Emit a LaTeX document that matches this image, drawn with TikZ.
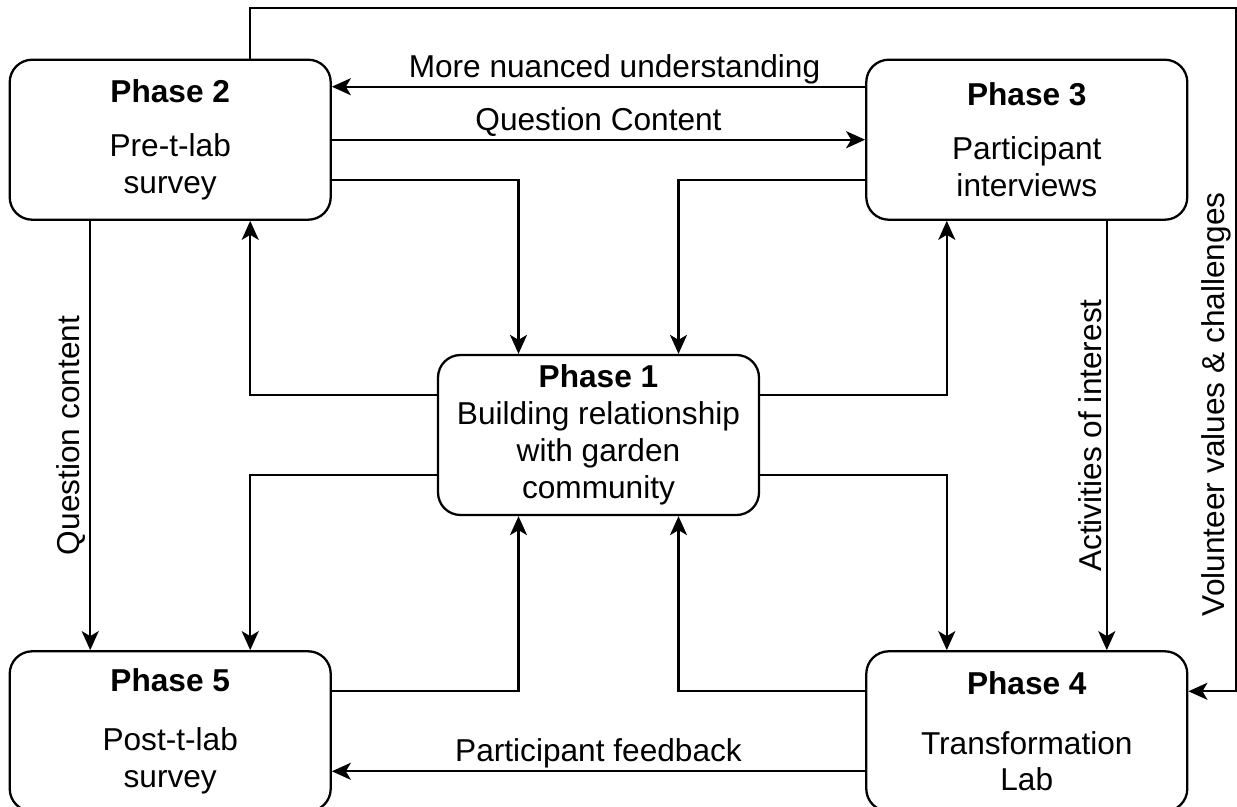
\documentclass[tikz,border=0pt]{standalone}
\usepackage{fontspec}
\setmainfont{Liberation Sans}
\usetikzlibrary{arrows.meta, positioning}

\begin{document}
\begin{tikzpicture}[
    font=\fontsize{18}{21}\selectfont,
    phase/.style={rectangle, draw, line width=1.3pt, rounded corners=0.45cm, align=center, minimum width=6.42cm, minimum height=3.2cm, inner sep=0pt},
    flow/.style={line width=1.3pt, -{Stealth[length=0.38cm, width=0.34cm, inset=0.1cm]}},
    lbl/.style={inner sep=1pt},
    vlbl/.style={inner sep=2pt, anchor=south, rotate=90}
]

\useasboundingbox (0,0) rectangle (24.74,-16.14);

\node (p1) [phase] at (11.97,-8.70) {\textbf{Phase 1}\\Building relationship\\with garden\\community};
\node (p2) [phase, above left=2.66cm and 2.1cm of p1] {\textbf{Phase 2}\\[10pt]Pre-t-lab\\survey};
\node (p3) [phase, above right=2.66cm and 2.1cm of p1] {\textbf{Phase 3}\\[10pt]Participant\\interviews};
\node (p5) [phase, below left=2.68cm and 2.1cm of p1] {\textbf{Phase 5}\\[13pt]Post-t-lab\\survey};
\node (p4) [phase, below right=2.68cm and 2.1cm of p1] {\textbf{Phase 4}\\[13pt]Transformation\\Lab};

% top row
\draw[flow] ([yshift=1.06cm]p3.west) -- node[lbl, above, pos=0.47] {More nuanced understanding} ([yshift=1.06cm]p2.east);
\draw[flow] (p2.east) -- node[lbl, above] {Question Content} (p3.west);

% to and from phase 1
\draw[flow] ([yshift=-0.8cm]p2.east) -| ([xshift=-1.6cm]p1.north);
\draw[flow] ([yshift=-0.8cm]p3.west) -| ([xshift=1.6cm]p1.north);
\draw[flow] ([yshift=0.8cm]p1.west) -| ([xshift=1.6cm]p2.south);
\draw[flow] ([yshift=0.8cm]p1.east) -| ([xshift=-1.6cm]p3.south);
\draw[flow] ([yshift=-0.8cm]p1.west) -| ([xshift=1.6cm]p5.north);
\draw[flow] ([yshift=-0.8cm]p1.east) -| ([xshift=-1.6cm]p4.north);
\draw[flow] ([yshift=0.8cm]p5.east) -| ([xshift=-1.6cm]p1.south);
\draw[flow] ([yshift=0.8cm]p4.west) -| ([xshift=1.6cm]p1.south);

% sides and bottom
\draw[flow] ([xshift=-1.6cm]p2.south) -- node[vlbl] {Question content} ([xshift=-1.6cm]p5.north);
\draw[flow] ([xshift=1.6cm]p3.south) -- node[vlbl] {Activities of interest} ([xshift=1.6cm]p4.north);
\draw[flow] ([yshift=-0.8cm]p4.west) -- node[lbl, above] {Participant feedback} ([yshift=-0.8cm]p5.east);

% long way round the outside
\coordinate (loop) at (24.72,-0.16);
\draw[flow] ([xshift=1.6cm]p2.north) |- (loop) |- node[vlbl, pos=0.29] {Volunteer values \& challenges} ([yshift=0.8cm]p4.east);

\end{tikzpicture}
\end{document}
